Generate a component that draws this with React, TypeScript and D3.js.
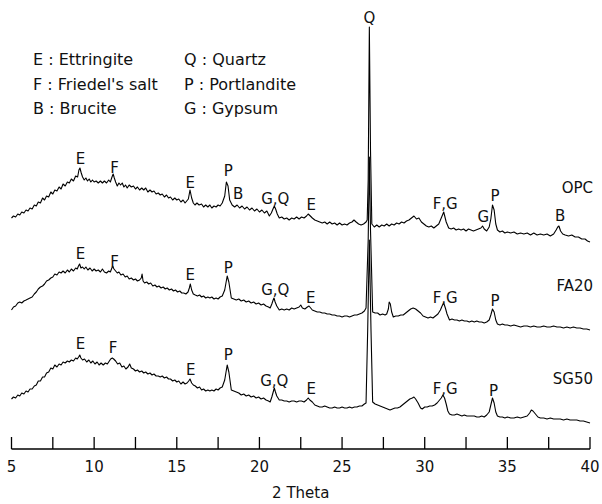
import React from "react";
import * as d3 from "d3";

// XRD traces: [2theta, intensity (a.u.)]
const opc: [number, number][] = [
  [5.0,31],[5.12,33],[5.25,32],[5.38,35],[5.5,34],[5.62,37],[5.75,36],[5.88,39],[6.0,38],[6.12,41],[6.25,40],[6.38,44],
  [6.5,43],[6.62,47],[6.75,46],[6.88,51],[7.0,49],[7.12,53],[7.25,52],[7.38,57],[7.5,55],[7.62,59],[7.75,58],[7.88,62],
  [8.0,60],[8.12,65],[8.25,63],[8.38,67],[8.5,66],[8.62,70],[8.75,68],[8.88,73],[9.0,72],[9.08,79],[9.14,81],[9.22,76],
  [9.3,72],[9.4,69],[9.5,71],[9.6,68],[9.7,70],[9.8,67],[9.9,69],[10.0,67],[10.12,68],[10.25,66],[10.38,68],[10.5,66],
  [10.62,68],[10.75,66],[10.88,69],[10.98,67],[11.08,72],[11.15,75],[11.22,71],[11.3,67],[11.4,63],[11.5,66],[11.6,64],
  [11.7,66],[11.8,62],[11.9,64],[12.0,61],[12.12,64],[12.25,62],[12.38,63],[12.5,60],[12.62,62],[12.75,59],[12.88,61],
  [13.0,59],[13.12,61],[13.25,57],[13.38,59],[13.5,57],[13.62,58],[13.75,55],[13.88,56],[14.0,54],[14.12,55],[14.25,52],
  [14.38,54],[14.5,51],[14.62,52],[14.75,49],[14.88,51],[15.0,49],[15.12,50],[15.25,47],[15.38,49],[15.5,46],[15.6,48],
  [15.7,50],[15.8,59],[15.9,51],[16.0,46],[16.1,44],[16.22,46],[16.35,44],[16.5,45],[16.62,42],[16.75,44],[16.88,42],
  [17.0,44],[17.12,41],[17.25,43],[17.38,42],[17.5,44],[17.62,43],[17.75,46],[17.9,53],[18.0,67],[18.1,63],[18.2,49],
  [18.35,44],[18.5,42],[18.65,44],[18.8,41],[18.95,43],[19.1,40],[19.25,42],[19.4,39],[19.55,41],[19.7,38],[19.85,40],
  [20.0,37],[20.15,39],[20.3,36],[20.45,38],[20.6,33],[20.72,36],[20.82,40],[20.9,43],[20.98,40],[21.08,35],[21.2,31],
  [21.35,32],[21.5,30],[21.65,31],[21.8,29],[21.95,31],[22.1,30],[22.25,32],[22.4,30],[22.55,32],[22.7,31],[22.85,33],
  [22.95,35],[23.08,33],[23.2,31],[23.35,29],[23.5,28],[23.65,27],[23.8,26],[23.95,27],[24.1,25],[24.25,27],[24.4,25],
  [24.55,26],[24.7,24],[24.85,26],[25.0,24],[25.15,25],[25.3,24],[25.45,26],[25.6,27],[25.72,29],[25.85,27],[26.0,25],
  [26.15,24],[26.3,25],[26.45,27],[26.52,29],[26.58,69],[26.65,222],[26.72,99],[26.8,25],[26.95,22],[27.1,24],[27.25,22],
  [27.4,24],[27.55,23],[27.7,25],[27.85,23],[28.0,25],[28.15,24],[28.3,26],[28.45,25],[28.6,27],[28.75,26],[28.9,28],
  [29.05,29],[29.2,31],[29.35,33],[29.5,30],[29.65,31],[29.8,27],[29.95,25],[30.1,23],[30.25,22],[30.4,23],[30.55,21],
  [30.7,23],[30.85,25],[31.0,31],[31.15,37],[31.3,27],[31.45,21],[31.6,20],[31.75,21],[31.9,19],[32.05,20],[32.2,19],
  [32.35,20],[32.5,18],[32.65,20],[32.8,19],[32.95,18],[33.1,19],[33.25,20],[33.4,21],[33.5,23],[33.6,20],[33.75,18],
  [33.9,22],[34.0,30],[34.1,44],[34.2,39],[34.3,25],[34.4,19],[34.55,17],[34.7,18],[34.85,16],[35.0,17],[35.2,16],
  [35.4,17],[35.6,15],[35.8,16],[36.0,15],[36.2,16],[36.4,14],[36.6,16],[36.8,14],[37.0,15],[37.2,14],[37.4,15],
  [37.6,13],[37.8,15],[37.95,19],[38.05,22],[38.12,23],[38.22,18],[38.35,15],[38.5,14],[38.7,13],[38.9,14],[39.1,12],
  [39.3,12],[39.5,10],[39.7,10],[39.85,8],[40.0,7]
];

const fa20: [number, number][] = [
  [5.0,29],[5.12,32],[5.25,33],[5.38,36],[5.5,37],[5.62,36],[5.75,38],[5.88,39],[6.0,40],[6.12,41],[6.25,42],[6.38,45],
  [6.5,47],[6.62,50],[6.75,52],[6.88,53],[7.0,55],[7.12,58],[7.25,59],[7.38,61],[7.5,62],[7.62,65],[7.75,64],[7.88,67],
  [8.0,66],[8.12,68],[8.25,66],[8.38,69],[8.5,67],[8.62,70],[8.75,68],[8.88,71],[8.98,70],[9.05,73],[9.12,75],[9.2,71],
  [9.3,72],[9.4,70],[9.5,72],[9.62,69],[9.75,71],[9.88,68],[10.0,70],[10.12,68],[10.25,69],[10.38,67],[10.5,70],
  [10.62,67],[10.75,66],[10.88,68],[10.98,67],[11.05,70],[11.12,73],[11.2,70],[11.3,68],[11.4,66],[11.5,67],[11.62,64],
  [11.75,65],[11.88,62],[12.0,63],[12.12,60],[12.25,61],[12.38,59],[12.5,60],[12.62,58],[12.75,59],[12.85,61],[12.9,65],
  [12.96,58],[13.05,56],[13.18,57],[13.3,55],[13.42,56],[13.55,53],[13.68,54],[13.8,52],[13.92,53],[14.05,51],[14.18,52],
  [14.3,50],[14.42,51],[14.55,49],[14.68,50],[14.8,48],[14.92,49],[15.05,47],[15.18,48],[15.3,46],[15.42,46],[15.55,45],
  [15.68,47],[15.76,51],[15.82,55],[15.9,49],[16.0,45],[16.12,44],[16.25,43],[16.38,44],[16.5,42],[16.62,43],[16.75,41],
  [16.88,42],[17.0,41],[17.12,42],[17.25,40],[17.38,41],[17.5,40],[17.62,42],[17.75,43],[17.9,49],[18.05,63],[18.15,57],
  [18.3,41],[18.45,40],[18.6,39],[18.75,40],[18.9,38],[19.05,39],[19.2,37],[19.35,38],[19.5,36],[19.65,37],[19.8,35],
  [19.95,36],[20.1,34],[20.25,35],[20.4,33],[20.55,32],[20.65,31],[20.75,35],[20.83,39],[20.88,41],[20.95,37],[21.05,33],
  [21.2,29],[21.35,30],[21.5,29],[21.65,30],[21.8,29],[21.95,31],[22.1,30],[22.25,31],[22.4,32],[22.5,34],[22.6,31],
  [22.75,30],[22.9,32],[23.0,33],[23.1,31],[23.2,29],[23.35,28],[23.5,27],[23.65,27],[23.8,26],[23.95,26],[24.1,25],
  [24.25,25],[24.4,24],[24.55,24],[24.7,23],[24.85,23],[25.0,22],[25.15,23],[25.3,23],[25.45,22],[25.6,23],[25.75,24],
  [25.9,24],[26.05,25],[26.2,26],[26.35,28],[26.45,31],[26.58,99],[26.65,182],[26.72,109],[26.85,27],[27.0,26],
  [27.15,26],[27.3,24],[27.45,25],[27.6,24],[27.7,25],[27.8,30],[27.85,37],[27.92,35],[28.0,27],[28.1,22],[28.25,23],
  [28.4,23],[28.55,24],[28.7,24],[28.85,26],[29.0,28],[29.15,30],[29.3,31],[29.45,30],[29.6,28],[29.75,26],[29.9,23],
  [30.05,22],[30.2,21],[30.35,22],[30.5,21],[30.65,23],[30.8,25],[30.95,29],[31.05,33],[31.15,36],[31.25,31],[31.35,25],
  [31.5,19],[31.65,20],[31.8,19],[31.95,19],[32.1,18],[32.25,19],[32.4,18],[32.55,18],[32.7,17],[32.85,18],[33.0,17],
  [33.15,18],[33.3,17],[33.45,17],[33.6,16],[33.75,17],[33.9,19],[34.0,24],[34.1,30],[34.2,27],[34.3,19],[34.4,15],
  [34.55,14],[34.7,15],[34.85,14],[35.0,14],[35.2,13],[35.4,14],[35.6,13],[35.8,12],[36.0,13],[36.2,13],[36.4,12],
  [36.6,13],[36.8,12],[37.0,12],[37.2,13],[37.4,12],[37.6,12],[37.8,13],[38.0,12],[38.2,12],[38.4,11],[38.6,12],
  [38.8,11],[39.0,12],[39.2,11],[39.4,11],[39.6,10],[39.8,10],[40.0,9]
];

const sg50: [number, number][] = [
  [5.0,30],[5.12,32],[5.25,31],[5.38,34],[5.5,33],[5.62,36],[5.75,35],[5.88,38],[6.0,37],[6.12,40],[6.25,40],[6.38,43],
  [6.5,44],[6.62,48],[6.75,48],[6.88,52],[7.0,52],[7.12,56],[7.25,57],[7.38,61],[7.5,60],[7.62,64],[7.75,62],[7.88,65],
  [8.0,64],[8.12,67],[8.25,66],[8.38,68],[8.5,67],[8.62,69],[8.75,68],[8.88,71],[8.98,70],[9.06,72],[9.13,74],[9.2,71],
  [9.3,69],[9.42,70],[9.55,67],[9.68,69],[9.8,66],[9.92,68],[10.05,65],[10.18,67],[10.3,64],[10.42,66],[10.55,64],
  [10.68,66],[10.8,65],[10.92,68],[11.0,70],[11.1,71],[11.18,70],[11.3,68],[11.42,65],[11.55,66],[11.68,62],[11.8,63],
  [11.92,60],[12.05,62],[12.15,65],[12.25,61],[12.38,60],[12.5,58],[12.62,59],[12.75,57],[12.88,58],[13.0,56],[13.12,57],
  [13.25,55],[13.38,56],[13.5,54],[13.62,55],[13.75,53],[13.88,53],[14.0,52],[14.12,53],[14.25,51],[14.38,52],[14.5,50],
  [14.62,50],[14.75,48],[14.88,49],[15.0,47],[15.12,48],[15.25,45],[15.38,47],[15.5,45],[15.62,46],[15.72,48],[15.8,50],
  [15.9,46],[16.0,44],[16.12,43],[16.25,41],[16.38,42],[16.5,39],[16.62,40],[16.75,38],[16.88,39],[17.0,38],[17.12,39],
  [17.25,38],[17.38,40],[17.5,39],[17.62,41],[17.75,42],[17.9,49],[18.05,64],[18.15,57],[18.3,39],[18.45,38],[18.6,37],
  [18.75,36],[18.9,34],[19.05,35],[19.2,33],[19.35,34],[19.5,32],[19.65,33],[19.8,31],[19.95,32],[20.1,30],[20.25,31],
  [20.4,29],[20.55,28],[20.65,27],[20.75,32],[20.85,38],[20.9,41],[20.97,37],[21.05,33],[21.2,29],[21.35,29],[21.5,28],
  [21.65,28],[21.8,27],[21.95,28],[22.1,28],[22.25,27],[22.4,28],[22.55,28],[22.7,27],[22.85,29],[22.95,31],[23.05,29],
  [23.2,27],[23.35,24],[23.5,23],[23.65,22],[23.8,22],[23.95,23],[24.1,22],[24.25,21],[24.4,21],[24.55,22],[24.7,21],
  [24.85,21],[25.0,22],[25.15,21],[25.3,21],[25.45,22],[25.6,21],[25.75,22],[25.9,22],[26.05,23],[26.2,23],[26.35,25],
  [26.45,26],[26.55,99],[26.65,189],[26.75,99],[26.85,27],[27.0,25],[27.15,24],[27.3,23],[27.45,22],[27.6,21],
  [27.75,20],[27.9,19],[28.05,20],[28.2,21],[28.35,21],[28.5,22],[28.65,24],[28.8,26],[28.95,28],[29.1,30],[29.25,31],
  [29.35,32],[29.45,30],[29.6,26],[29.75,21],[29.85,20],[30.0,22],[30.15,22],[30.3,23],[30.45,23],[30.6,24],[30.75,26],
  [30.9,29],[31.0,31],[31.1,34],[31.2,31],[31.3,25],[31.4,18],[31.5,15],[31.65,14],[31.8,14],[31.95,15],[32.1,14],
  [32.25,13],[32.4,14],[32.55,13],[32.7,13],[32.85,13],[33.0,13],[33.15,12],[33.3,12],[33.45,13],[33.6,12],[33.75,14],
  [33.9,17],[34.0,24],[34.1,31],[34.2,26],[34.3,17],[34.4,13],[34.55,12],[34.7,12],[34.85,11],[35.0,12],[35.2,11],
  [35.4,11],[35.6,12],[35.8,11],[36.0,12],[36.2,13],[36.35,16],[36.45,19],[36.55,18],[36.7,15],[36.85,12],[37.0,11],
  [37.2,11],[37.4,10],[37.6,11],[37.8,10],[38.0,10],[38.2,10],[38.4,9],[38.6,10],[38.8,9],[39.0,9],[39.2,9],[39.4,8],
  [39.6,8],[39.8,7],[40.0,6]
];

const seriesNames = ["OPC", "FA20", "SG50"];
const seriesOffsets = [200, 110, 20];
const seriesNameLevels = [56, 48, 45];

// peak labels: [text, 2theta, label baseline level (a.u.)]
const opcPeaks: [string, number, number][] = [
  ["E", 9.17, 85], ["F", 11.23, 76], ["E", 15.82, 61], ["P", 18.12, 73], ["B", 18.72, 50], ["G,Q", 20.96, 45],
  ["E", 23.14, 39], ["F,G", 31.24, 40], ["G", 33.54, 27], ["P", 34.26, 48], ["B", 38.19, 28]
];
const fa20Peaks: [string, number, number][] = [
  ["E", 9.17, 80], ["F", 11.23, 72], ["E", 15.82, 59], ["P", 18.12, 66], ["G,Q", 20.96, 44], ["E", 23.1, 36],
  ["F,G", 31.24, 36], ["P", 34.26, 33]
];
const sg50Peaks: [string, number, number][] = [
  ["E", 9.17, 80], ["F", 11.15, 76], ["E", 15.85, 54], ["P", 18.12, 69], ["G,Q", 20.9, 43], ["E", 23.14, 35],
  ["F,G", 31.24, 35], ["P", 34.16, 33]
];
const quartzLabel: [string, number, number] = ["Q", 26.65, 226];

const legendCol1 = [["E", "Ettringite"], ["F", "Friedel's salt"], ["B", "Brucite"]];
const legendCol2 = [["Q", "Quartz"], ["P", "Portlandite"], ["G", "Gypsum"]];

const xTicks = [5, 7.5, 10, 12.5, 15, 17.5, 20, 22.5, 25, 27.5, 30, 32.5, 35, 37.5, 40];
const xTickLabels = [5, 10, 15, 20, 25, 30, 35, 40];
const xTitle = "2 Theta";

const W = 602;
const H = 504;
const FONT = "'DejaVu Sans', Arial, sans-serif";

export default function App() {
  const x = d3.scaleLinear().domain([5, 40]).range([11.5, 590]);
  const y = d3.scaleLinear().domain([0, 440]).range([449, 9]);
  const series = [opc, fa20, sg50];
  const peaks = [opcPeaks, fa20Peaks, sg50Peaks];

  return (
    <svg width={W} height={H} style={{ position: "absolute", left: 0, top: 0, background: "#fff" }}
      fontFamily={FONT}>
      <rect width={W} height={H} fill="#fff" />
      {series.map((s, i) => {
        const off = seriesOffsets[i];
        const line = d3.line<[number, number]>().x(d => x(d[0])).y(d => y(d[1] + off));
        return <path key={i} d={line(s) || ""} fill="none" stroke="#000" strokeWidth={1.1} strokeLinejoin="round" />;
      })}
      {peaks.map((pk, i) =>
        pk.map((p, j) => (
          <text key={`${i}-${j}`} x={x(p[1])} y={y(p[2] + seriesOffsets[i])} textAnchor="middle" fontSize={15} fill="#111">
            {p[0]}
          </text>
        ))
      )}
      <text x={x(quartzLabel[1])} y={y(quartzLabel[2] + seriesOffsets[0])} textAnchor="middle" fontSize={15} fill="#111">
        {quartzLabel[0]}
      </text>
      {seriesNames.map((n, i) => (
        <text key={n} x={x(40) + 3} y={y(seriesNameLevels[i] + seriesOffsets[i])} textAnchor="end" fontSize={15} fill="#111">
          {n}
        </text>
      ))}
      {legendCol1.map((l, i) => (
        <text key={"a" + i} x={33} y={65 + i * 24.5} fontSize={16} fill="#111">{`${l[0]} : ${l[1]}`}</text>
      ))}
      {legendCol2.map((l, i) => (
        <text key={"b" + i} x={184} y={65 + i * 24.5} fontSize={16} fill="#111">{`${l[0]} : ${l[1]}`}</text>
      ))}
      <line x1={x(5)} x2={x(40)} y1={449} y2={449} stroke="#000" strokeWidth={1.3} />
      {xTicks.map(t => (
        <line key={t} x1={x(t)} x2={x(t)} y1={437} y2={449} stroke="#000" strokeWidth={1.3} />
      ))}
      {xTickLabels.map(t => (
        <text key={t} x={x(t)} y={472} textAnchor="middle" fontSize={15} fill="#111">{t}</text>
      ))}
      <text x={(x(5) + x(40)) / 2} y={498} textAnchor="middle" fontSize={15} fill="#111">{xTitle}</text>
    </svg>
  );
}
